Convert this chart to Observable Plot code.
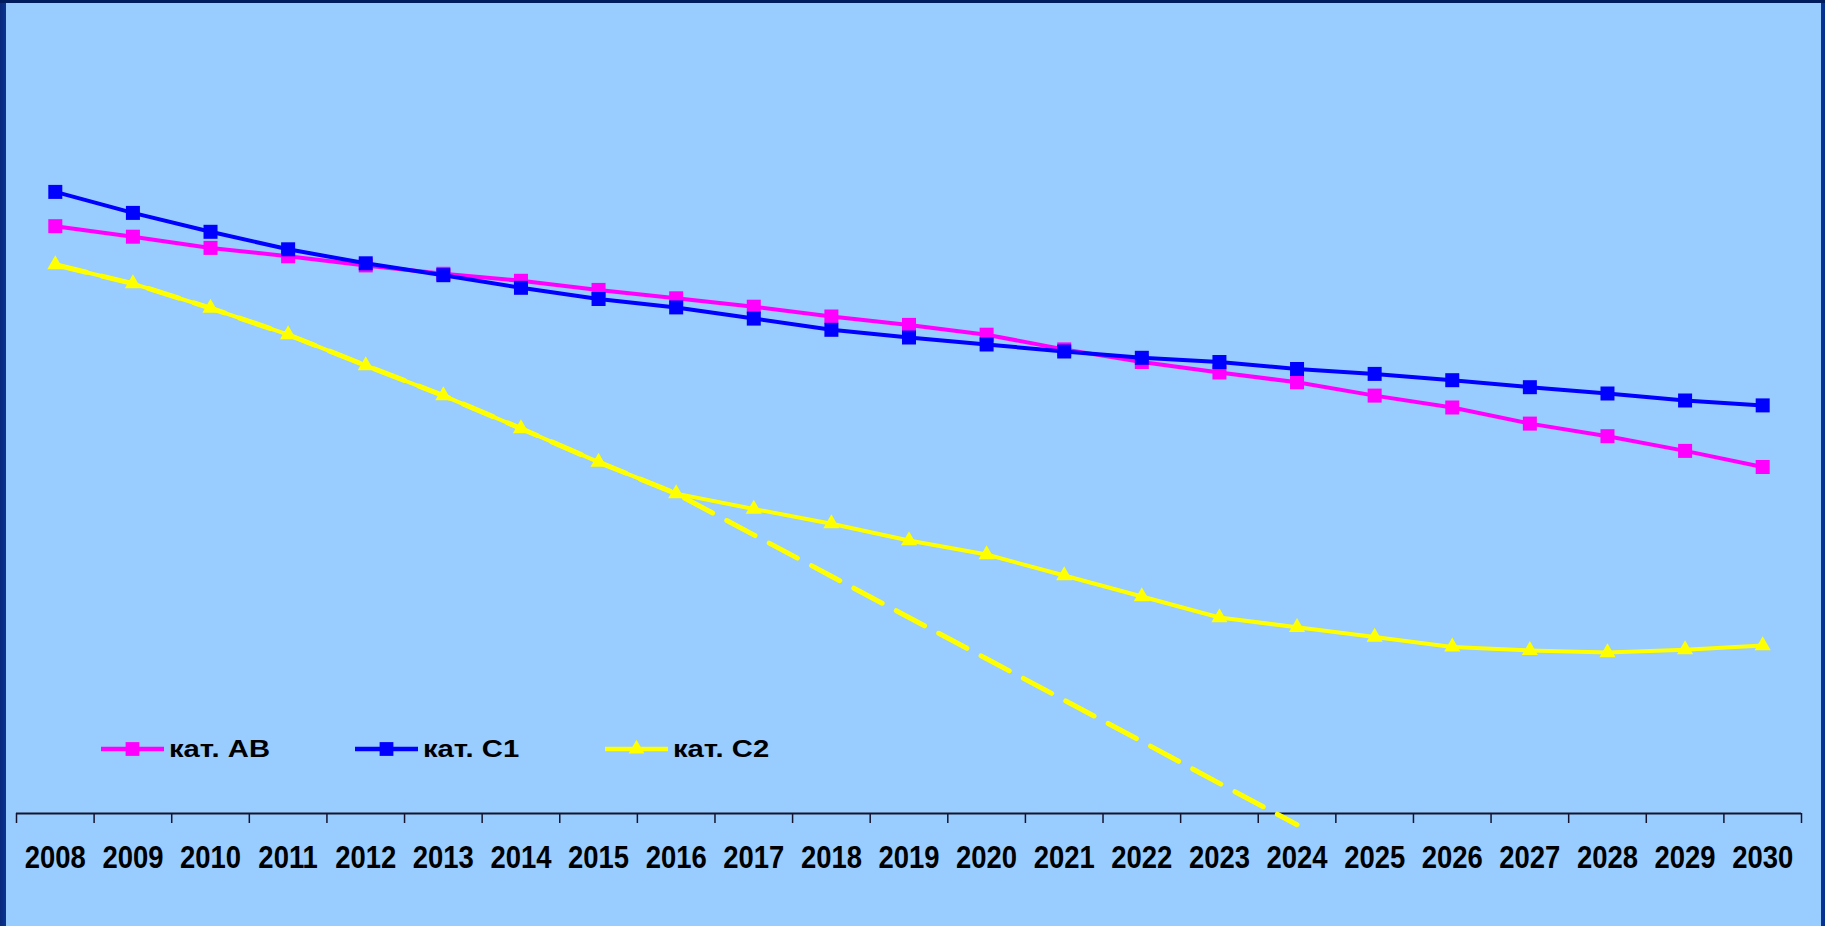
<!DOCTYPE html>
<html>
<head>
<meta charset="utf-8">
<script src="https://cdn.jsdelivr.net/npm/d3@7"></script>
<script src="https://cdn.jsdelivr.net/npm/@observablehq/plot@0.6"></script>
<style>
  html, body { margin: 0; padding: 0; }
  body {
    width: 1825px; height: 926px; overflow: hidden;
    background: linear-gradient(to right, #08287a 0px, #0a3a9c 8px, #0a3a9c 1817px, #06308f 1825px);
  }
  #panel {
    position: absolute; left: 6px; top: 3px; width: 1815px; height: 923px;
    background: #99ccff;
  }
  #topband { position: absolute; left: 0; top: 0; width: 1825px; height: 3px; background: #001c5c; }
  #chart svg { display: block; }
  #legend { position: absolute; left: 0; top: 0; width: 100%; height: 100%; pointer-events: none; }
  .item { position: absolute; top: 733px; height: 26px; display: flex; align-items: center; }
  .item svg { display: block; }
  .item span {
    display: inline-block; transform: scaleX(1.27); transform-origin: 0 50%;
    font-family: "Liberation Sans", Arial, sans-serif; font-weight: bold; font-size: 23px;
    color: #000; margin-left: 5px; line-height: 26px; white-space: nowrap;
  }
</style>
</head>
<body>
<div id="topband"></div>
<div id="panel">
  <div id="chart"></div>
  <div id="legend"></div>
</div>
<script>
// Years on the category axis
const years = [2008, 2009, 2010, 2011, 2012, 2013, 2014, 2015, 2016, 2017, 2018, 2019,
               2020, 2021, 2022, 2023, 2024, 2025, 2026, 2027, 2028, 2029, 2030];

// Series values (relative units)
const catAB = [83.9, 82.4, 80.8, 79.6, 78.3, 77.1, 76.1, 74.8, 73.6, 72.4, 71.0, 69.8,
               68.4, 66.3, 64.5, 63.0, 61.6, 59.7, 58.0, 55.7, 53.9, 51.8, 49.5];
const catC1 = [88.8, 85.8, 83.1, 80.6, 78.6, 76.9, 75.1, 73.5, 72.3, 70.7, 69.1, 68.0,
               67.0, 66.0, 65.1, 64.5, 63.5, 62.8, 61.9, 60.9, 60.0, 59.0, 58.3];
const catC2 = [78.4, 75.7, 72.2, 68.4, 64.0, 59.7, 55.0, 50.2, 45.7, 43.5, 41.4, 39.0,
               37.0, 34.0, 31.0, 28.0, 26.6, 25.2, 23.8, 23.3, 23.0, 23.4, 24.0];
// Dashed continuation of the C2 decline (2008–2024)
const catC2Trend = [78.4, 75.7, 72.2, 68.4, 64.0, 59.7, 55.0, 50.2, 45.7, 39.8, 33.9, 28.0,
                    22.1, 16.2, 10.3, 4.3, -1.6];

// Legend labels and series colours
const seriesNames = ["кат. АВ", "кат. С1", "кат. С2"];
const seriesColors = ["#ff00ff", "#0000ff", "#ffff00"];

const rows = (vals) => vals.map((v, i) => ({year: years[i], value: v}));
const ab = rows(catAB), c1 = rows(catC1), c2 = rows(catC2), trend = rows(catC2Trend);

// Tick marks sit between categories
const bounds = d3.range(years.length + 1).map(i => years[0] - 0.5 + i);

const chart = Plot.plot({
  width: 1815,
  height: 923,
  marginLeft: 10,
  marginRight: 20,
  marginTop: 110,
  marginBottom: 113,
  style: {background: "transparent", fontFamily: "'Liberation Sans', Arial, sans-serif", overflow: "visible"},
  x: {type: "linear", domain: [years[0] - 0.5, years[years.length - 1] + 0.5], label: null},
  y: {domain: [0, 100], axis: null},
  marks: [
    Plot.axisX(bounds, {tickSize: 10, tickFormat: () => "", stroke: "#14142e", strokeWidth: 1.5, label: null}),
    Plot.axisX(years, {tickSize: 0, tickPadding: 32, tickFormat: d => String(d), fontSize: 28,
                       fontWeight: "bold", fill: "#000", label: null}),
    Plot.ruleY([0], {stroke: "#14142e", strokeWidth: 2}),
    Plot.lineY(trend, {x: "year", y: "value", stroke: seriesColors[2], strokeWidth: 5,
                       strokeDasharray: "32,16"}),
    Plot.lineY(c2, {x: "year", y: "value", stroke: seriesColors[2], strokeWidth: 4}),
    Plot.dot(c2, {x: "year", y: "value", symbol: "triangle", r: 6, fill: seriesColors[2]}),
    Plot.lineY(ab, {x: "year", y: "value", stroke: seriesColors[0], strokeWidth: 4}),
    Plot.dot(ab, {x: "year", y: "value", symbol: "square", r: 7.9, fill: seriesColors[0]}),
    Plot.lineY(c1, {x: "year", y: "value", stroke: seriesColors[1], strokeWidth: 4}),
    Plot.dot(c1, {x: "year", y: "value", symbol: "square", r: 7.9, fill: seriesColors[1]})
  ]
});
document.getElementById("chart").append(chart);

// Year labels use a tall, slightly condensed bold face
chart.querySelectorAll('g[aria-label="x-axis tick label"] text').forEach(t => {
  const tr = t.getAttribute("transform");
  if (tr) t.setAttribute("transform", tr + " scale(0.98,1.12)");
});

// Legend: line + marker swatch followed by the series name
const legend = document.getElementById("legend");
const itemLeft = [95, 349, 599];
const symbols = ["square", "square", "triangle"];
seriesNames.forEach((name, i) => {
  const item = document.createElement("div");
  item.className = "item";
  item.style.left = itemLeft[i] + "px";
  const sw = d3.create("svg").attr("width", 63).attr("height", 26);
  sw.append("line").attr("x1", 0).attr("x2", 63).attr("y1", 13).attr("y2", 13)
    .attr("stroke", seriesColors[i]).attr("stroke-width", 4.5);
  const sym = symbols[i] === "square" ? d3.symbolSquare : d3.symbolTriangle;
  const size = symbols[i] === "square" ? 190 : 110;
  sw.append("path").attr("d", d3.symbol(sym, size)()).attr("transform", "translate(31.5,13)")
    .attr("fill", seriesColors[i]);
  item.append(sw.node());
  const label = document.createElement("span");
  label.textContent = name;
  item.append(label);
  legend.append(item);
});
</script>
</body>
</html>
